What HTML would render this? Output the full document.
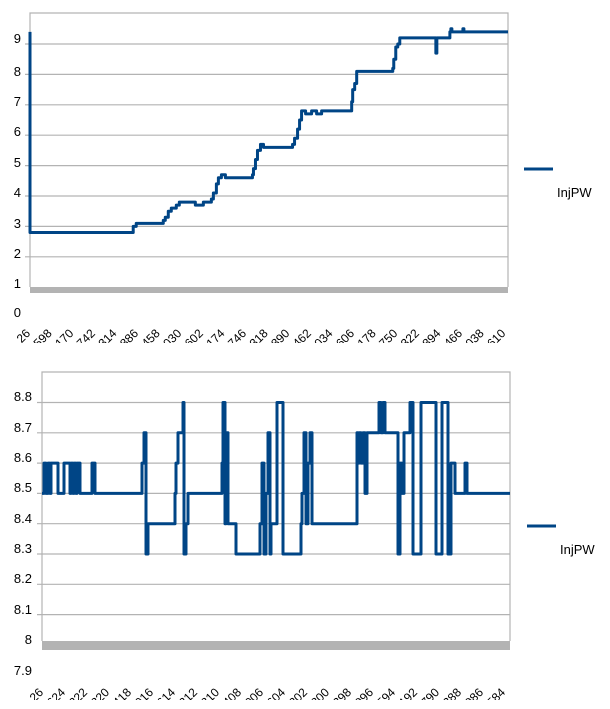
<!DOCTYPE html>
<html><head><meta charset="utf-8"><style>
html,body{margin:0;padding:0;background:#fff;width:610px;height:709px;overflow:hidden}
svg{display:block;font-family:"Liberation Sans",sans-serif}
</style></head><body>
<svg id="c" width="610" height="709">
<defs>
<clipPath id="clipTop"><rect x="0" y="300" width="610" height="43"/></clipPath>
<clipPath id="clipBot"><rect x="0" y="660" width="610" height="40"/></clipPath>
</defs>
</svg>
<script>
// ---- top chart data (sample position, InjPW value; step series)
const topX=[0,0,103,106,133,135,138,141,146,149,152,165,166,173,174,181,183,186,188,191,195,198,222,223,225,227,230,233,238,262,264,267,269,271,275,280,281,286,290,291,320,321,322,324,326,330,362,363,365,367,369,373,405,406,408,419,420,421,432,433,477];
const topV=[9.4,2.8,3.0,3.1,3.2,3.3,3.5,3.6,3.7,3.8,3.8,3.7,3.7,3.8,3.8,3.9,4.1,4.4,4.6,4.7,4.6,4.6,4.7,4.9,5.2,5.5,5.7,5.6,5.6,5.7,5.9,6.2,6.5,6.8,6.7,6.7,6.8,6.7,6.7,6.8,6.8,7.1,7.5,7.7,8.1,8.1,8.2,8.5,8.9,9.0,9.2,9.2,8.7,9.2,9.2,9.4,9.5,9.4,9.5,9.4,9.4];
const topTicks=[1,2,3,4,5,6,7,8,9];
const topXLabels=["26","598","170","742","314","886","458","030","602","174","746","318","890","462","034","606","178","750","322","894","466","038","610"];
// ---- bottom chart data
const botX=[
 0,2,4,6,8,9,16,22,28,29,
 31,32,34,35,38,50,53,100,102,104,
 106,133,134,136,141,142,144,146,180,181,
 183,184,186,194,218,220,222,224,226,228,
 229,235,241,259,260,262,264,266,268,270,
 315,316,317,319,321,323,325,337,339,341,
 343,356,358,360,362,368,371,379,394,400,
 406,409,413,423,425];
const botV=[
 8.5,8.6,8.5,8.6,8.5,8.6,8.5,8.6,8.5,8.6,
 8.5,8.6,8.5,8.6,8.5,8.6,8.5,8.6,8.7,8.3,
 8.4,8.5,8.6,8.7,8.8,8.3,8.4,8.5,8.6,8.8,
 8.4,8.7,8.4,8.3,8.4,8.6,8.3,8.5,8.7,8.3,
 8.4,8.8,8.3,8.4,8.5,8.7,8.4,8.6,8.7,8.4,
 8.7,8.6,8.7,8.6,8.7,8.5,8.7,8.8,8.7,8.8,
 8.7,8.3,8.6,8.5,8.7,8.8,8.3,8.8,8.3,8.8,
 8.3,8.6,8.5,8.6,8.5];
const botTicks=[8.3,8.4,8.5,8.6,8.7,8.8];
const botXLabels=["26","624","222","820","418","016","614","212","810","408","006","604","202","800","398","996","594","192","790","388","986","584"];

const NS="http://www.w3.org/2000/svg";
const svg=document.getElementById('c');
function mk(tag,attrs,parent){const e=document.createElementNS(NS,tag);for(const k in attrs)e.setAttribute(k,attrs[k]);(parent||svg).appendChild(e);return e;}

function drawChart(o){
  const g=mk('g',{});
  
  
  const xs=v=>o.x0+v*(o.x1-o.x0)/o.xMax;
  const ys=v=>o.yRef-(v-o.vRef)*o.step;
  const fl=mk('rect',{x:o.x0,y:o.yB,width:o.x1-o.x0,height:o.fh,fill:'#b3b3b3'},g);
  
  
  o.grid.forEach(v=>{
    const l=mk('line',{x1:o.x0-5,x2:o.x1,y1:ys(v),y2:ys(v),stroke:'#b3b3b3','stroke-width':1.2},g);
    
    
  });
  const fr=mk('path',{d:`M${o.x0},${o.yB}V${o.yT}H${o.x1}V${o.yB}`,fill:'none',stroke:'#b3b3b3','stroke-width':1.2},g);
  
  
  o.yLabels.forEach(t=>{
    const tx=mk('text',{x:o.ylx,y:t[1],'font-size':13,'text-anchor':'end',fill:'#000'},g);
    tx.textContent=t[0];
    
    
  });
  const xg=mk('g',{'clip-path':`url(#${o.clip})`},g);
  
  
  o.xLabels.forEach((t,i)=>{
    const px=o.xl0+i*o.xls, py=o.xly;
    const tx=mk('text',{x:px,y:py,'font-size':12,'text-anchor':'end',fill:'#000',transform:`rotate(-45 ${px} ${py})`},xg);
    tx.textContent=t;
    
    
  });
  let d='';
  for(let i=0;i<o.X.length;i++){
    const px=xs(o.X[i]),py=ys(o.V[i]);
    if(i===0)d+=`M${px},${py}`;else d+=`H${px}V${py}`;
  }
  d+=`H${xs(o.xMax)}`;
  const p=mk('path',{d:d,fill:'none',stroke:'#004586','stroke-width':3,'stroke-linejoin':'round'},g);
  
  
  const ll=mk('line',{x1:o.lg[0],x2:o.lg[0]+29,y1:o.lg[1],y2:o.lg[1],stroke:'#004586','stroke-width':3},g);
  
  
  const lt=mk('text',{x:o.lg[0]+33,y:o.lg[1]+28,'font-size':13,fill:'#000'},g);
  lt.textContent='InjPW';
  
  
}

drawChart({name:'top-chart',X:topX,V:topV,xMax:477,x0:30,x1:508,yT:13,yB:287,fh:6,yRef:44,vRef:9,step:30.4,
  grid:topTicks.slice(1),ylx:21,clip:'clipTop',
  yLabels:[["9",43],["8",76],["7",106],["6",136],["5",167],["4",197],["3",228],["2",258],["1",288],["0",317]],
  xLabels:topXLabels,xl0:31,xls:21.6,xly:334,lg:[524,169]});
drawChart({name:'bottom-chart',X:botX,V:botV,xMax:468,x0:42,x1:510,yT:372,yB:641,fh:9,yRef:402.5,vRef:8.8,step:303,
  grid:[8.1,8.2].concat(botTicks),ylx:32,clip:'clipBot',
  yLabels:[["8.8",401],["8.7",432],["8.6",462],["8.5",492],["8.4",523],["8.3",553],["8.2",583],["8.1",614],["8",644],["7.9",675]],
  xLabels:botXLabels,xl0:44,xls:22,xly:693,lg:[527,526]});
</script>
</body></html>
